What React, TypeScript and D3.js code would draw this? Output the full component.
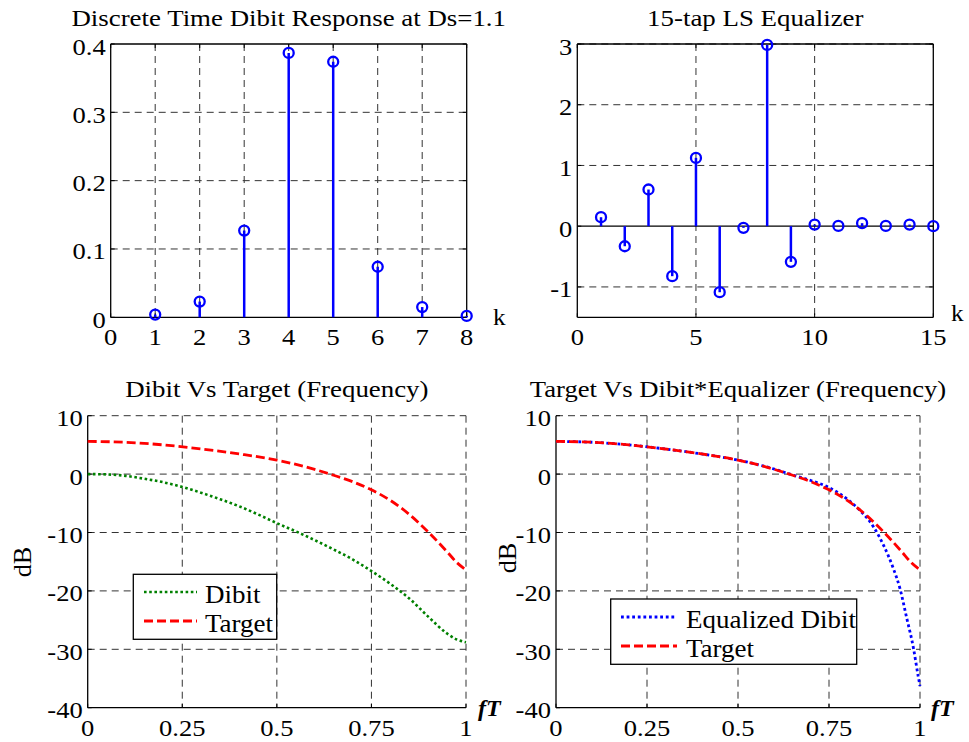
import React from 'react';
import * as d3 from 'd3';

const FONT = "'Liberation Serif', 'Times New Roman', serif";

// ---- Data ----
const dibitK = [1, 2, 3, 4, 5, 6, 7, 8];
const dibitVals = [0.004, 0.023, 0.127, 0.387, 0.374, 0.074, 0.015, 0.002];

const eqK = [1, 2, 3, 4, 5, 6, 7, 8, 9, 10, 11, 12, 13, 14, 15];
const eqVals = [0.148, -0.33, 0.604, -0.823, 1.125, -1.087, -0.027, 2.985, -0.587, 0.027, 0.005, 0.05, 0.005, 0.027, 0];

const dibitFreqX = [0, 0.05, 0.1, 0.15, 0.2, 0.25, 0.3, 0.35, 0.4, 0.45, 0.5, 0.55, 0.6, 0.65, 0.7, 0.75, 0.8, 0.85, 0.9, 0.95, 0.975, 1.0];
const dibitFreqDb = [0, -0.05, -0.3, -0.8, -1.4, -2.2, -3.2, -4.3, -5.5, -6.9, -8.4, -9.8, -11.3, -12.9, -14.6, -16.6, -18.8, -21.3, -24.4, -27.3, -28.3, -28.8];

const targetX = [0, 0.1, 0.2, 0.3, 0.4, 0.5, 0.6, 0.65, 0.7, 0.75, 0.8, 0.85, 0.9, 0.95, 0.975, 1.0];
const targetDb = [5.6, 5.45, 5.0, 4.3, 3.45, 2.4, 0.8, -0.2, -1.3, -2.7, -4.5, -6.9, -9.9, -13.3, -15.1, -16.4];

const eqDibitX = [0, 0.1, 0.2, 0.3, 0.4, 0.5, 0.6, 0.65, 0.7, 0.75, 0.8, 0.835, 0.872, 0.9, 0.927, 0.945, 0.963, 0.982, 0.995, 1.0];
const eqDibitDb = [5.6, 5.45, 5.0, 4.3, 3.45, 2.4, 0.85, -0.15, -1.1, -2.3, -4.3, -6.2, -9.0, -12.2, -16.2, -19.6, -24.5, -29.8, -34.6, -36.3];

const p1XTicks = [0, 1, 2, 3, 4, 5, 6, 7, 8];
const p1YTicks = [0, 0.1, 0.2, 0.3, 0.4];
const p2XTicks = [0, 5, 10, 15];
const p2YTicks = [-1, 0, 1, 2, 3];
const freqXTicks = [0, 0.25, 0.5, 0.75, 1];
const dbYTicks = [-40, -30, -20, -10, 0, 10];

const titles = [
  'Discrete Time Dibit Response at Ds=1.1',
  '15-tap LS Equalizer',
  'Dibit Vs Target (Frequency)',
  'Target Vs Dibit*Equalizer (Frequency)',
];
const legend1 = ['Dibit', 'Target'];
const legend2 = ['Equalized Dibit', 'Target'];

type TP = {
  x: number; y: number; children: React.ReactNode; size?: number; anchor?: string;
  sx?: number; rotate?: number; weight?: string; italic?: boolean;
};
function T({ x, y, children, size = 23.5, anchor = 'start', sx = 1.13, rotate = 0, weight = 'normal', italic = false }: TP) {
  return (
    <text
      transform={`translate(${x},${y}) rotate(${rotate}) scale(${sx},1)`}
      textAnchor={anchor as any}
      fontSize={size}
      fontFamily={FONT}
      fontWeight={weight}
      fontStyle={italic ? 'italic' : 'normal'}
      fill="#000"
    >
      {children}
    </text>
  );
}

type Box = { l: number; r: number; t: number; b: number };

function Axes({ box, x, y, xTicks, yTicks, fullBox, gridX, gridY, fmtX, fmtY }: any) {
  const GRID = '#333';
  return (
    <g>
      {gridX.map((v: number) => (
        <line key={'gx' + v} x1={x(v)} x2={x(v)} y1={box.t} y2={box.b} stroke={GRID} strokeWidth={1} strokeDasharray="7,5" />
      ))}
      {gridY.map((v: number) => (
        <line key={'gy' + v} x1={box.l} x2={box.r} y1={y(v)} y2={y(v)} stroke={GRID} strokeWidth={1} strokeDasharray="7,5" />
      ))}
      <line x1={box.l} x2={box.l} y1={box.t} y2={box.b} stroke="#000" strokeWidth={1.3} />
      <line x1={box.l} x2={box.r} y1={box.b} y2={box.b} stroke="#000" strokeWidth={1.3} />
      {fullBox && <line x1={box.l} x2={box.r} y1={box.t} y2={box.t} stroke="#000" strokeWidth={1.3} />}
      {fullBox && <line x1={box.r} x2={box.r} y1={box.t} y2={box.b} stroke="#000" strokeWidth={1.3} />}
      {xTicks.map((v: number) => (
        <g key={'xt' + v}>
          <line x1={x(v)} x2={x(v)} y1={box.b} y2={box.b - 4} stroke="#000" />
          {fullBox && <line x1={x(v)} x2={x(v)} y1={box.t} y2={box.t + 4} stroke="#000" />}
          <T x={x(v)} y={box.b + 28} anchor="middle">{fmtX(v)}</T>
        </g>
      ))}
      {yTicks.map((v: number) => (
        <g key={'yt' + v}>
          <line x1={box.l} x2={box.l + 4} y1={y(v)} y2={y(v)} stroke="#000" />
          {fullBox && <line x1={box.r} x2={box.r - 4} y1={y(v)} y2={y(v)} stroke="#000" />}
          <T x={box.l - 5} y={y(v) + 10.5} anchor="end">{fmtY(v)}</T>
        </g>
      ))}
    </g>
  );
}

export default function App() {
  const b1: Box = { l: 110.7, r: 466.7, t: 44, b: 317.3 };
  const b2: Box = { l: 577.3, r: 933.3, t: 44, b: 317.3 };
  const b3: Box = { l: 87.7, r: 466, t: 415.7, b: 707.7 };
  const b4: Box = { l: 556, r: 920, t: 415.7, b: 707.7 };

  const x1 = d3.scaleLinear().domain([0, 8]).range([b1.l, b1.r]);
  const y1 = d3.scaleLinear().domain([0, 0.4]).range([b1.b, b1.t]);
  const x2 = d3.scaleLinear().domain([0, 15]).range([b2.l, b2.r]);
  const y2 = d3.scaleLinear().domain([-1.5, 3]).range([b2.b, b2.t]);
  const x3 = d3.scaleLinear().domain([0, 1]).range([b3.l, b3.r]);
  const y3 = d3.scaleLinear().domain([-40, 10]).range([b3.b, b3.t]);
  const x4 = d3.scaleLinear().domain([0, 1]).range([b4.l, b4.r]);
  const y4 = d3.scaleLinear().domain([-40, 10]).range([b4.b, b4.t]);

  const mkLine = (xs: any, ys: any, X: number[], Y: number[]) =>
    d3.line<number>().x((_, i) => xs(X[i])).y((_, i) => ys(Y[i])).curve(d3.curveMonotoneX)(X) || '';

  const fmtF = (v: number) => String(v);
  const BLUE = '#0000ff';
  const RED = '#ff0000';
  const GREEN = '#008000';

  return (
    <svg width={969} height={742} style={{ position: 'absolute', left: 0, top: 0, background: '#fff' }}>
      <rect width={969} height={742} fill="#fff" />

      {/* Panel 1 */}
      <Axes box={b1} x={x1} y={y1} xTicks={p1XTicks} yTicks={p1YTicks} fullBox
        gridX={p1XTicks.filter((v) => v > 0 && v < 8)} gridY={p1YTicks.filter((v) => v > 0 && v < 0.4)}
        fmtX={fmtF} fmtY={fmtF} />
      {dibitK.map((k, i) => (
        <g key={'s1' + k}>
          <line x1={x1(k)} x2={x1(k)} y1={y1(0)} y2={y1(dibitVals[i])} stroke={BLUE} strokeWidth={2.5} />
          <circle cx={x1(k)} cy={y1(dibitVals[i])} r={5} fill="none" stroke={BLUE} strokeWidth={2.3} />
        </g>
      ))}
      <T x={(b1.l + b1.r) / 2} y={26} anchor="middle" size={24} sx={1.12}>{titles[0]}</T>
      <T x={493} y={325} size={24} sx={1.05}>k</T>

      {/* Panel 2 */}
      <Axes box={b2} x={x2} y={y2} xTicks={p2XTicks} yTicks={p2YTicks} fullBox
        gridX={p2XTicks.filter((v) => v > 0 && v < 15)} gridY={p2YTicks.filter((v) => v !== 0)}
        fmtX={fmtF} fmtY={fmtF} />
      <line x1={b2.l} x2={b2.r} y1={y2(0)} y2={y2(0)} stroke="#000" strokeWidth={1.2} />
      {eqK.map((k, i) => (
        <g key={'s2' + k}>
          <line x1={x2(k)} x2={x2(k)} y1={y2(0)} y2={y2(eqVals[i])} stroke={BLUE} strokeWidth={2.5} />
          <circle cx={x2(k)} cy={y2(eqVals[i])} r={5} fill="none" stroke={BLUE} strokeWidth={2.3} />
        </g>
      ))}
      <T x={(b2.l + b2.r) / 2} y={26} anchor="middle" size={24} sx={1.12}>{titles[1]}</T>
      <T x={951} y={321} size={24} sx={1.05}>k</T>

      {/* Panel 3 */}
      <Axes box={b3} x={x3} y={y3} xTicks={freqXTicks} yTicks={dbYTicks}
        gridX={freqXTicks.filter((v) => v > 0)} gridY={dbYTicks.filter((v) => v > -40)}
        fmtX={fmtF} fmtY={fmtF} />
      <path d={mkLine(x3, y3, dibitFreqX, dibitFreqDb)} fill="none" stroke={GREEN} strokeWidth={2.6} strokeDasharray="2.6,2.6" />
      <path d={mkLine(x3, y3, targetX, targetDb)} fill="none" stroke={RED} strokeWidth={2.8} strokeDasharray="9,4" />
      <T x={(b3.l + b3.r) / 2} y={397} anchor="middle" size={24} sx={1.12}>{titles[2]}</T>
      <T x={31} y={562} anchor="middle" size={25} sx={1.05} rotate={-90}>dB</T>
      <T x={478} y={716} size={24} sx={1.0} weight="bold" italic>fT</T>
      <rect x={133.3} y={574.3} width={143.4} height={65} fill="#fff" stroke="#000" strokeWidth={1.3} />
      <line x1={144} x2={197} y1={592} y2={592} stroke={GREEN} strokeWidth={2.6} strokeDasharray="2.6,2.6" />
      <line x1={144} x2={197} y1={621} y2={621} stroke={RED} strokeWidth={2.8} strokeDasharray="9,4" />
      <T x={205} y={603} size={25} sx={1.08}>{legend1[0]}</T>
      <T x={205} y={632} size={25} sx={1.08}>{legend1[1]}</T>

      {/* Panel 4 */}
      <Axes box={b4} x={x4} y={y4} xTicks={freqXTicks} yTicks={dbYTicks}
        gridX={freqXTicks.filter((v) => v > 0)} gridY={dbYTicks.filter((v) => v > -40)}
        fmtX={fmtF} fmtY={fmtF} />
      <path d={mkLine(x4, y4, eqDibitX, eqDibitDb)} fill="none" stroke={BLUE} strokeWidth={2.8} strokeDasharray="2.8,2.8" />
      <path d={mkLine(x4, y4, targetX, targetDb)} fill="none" stroke={RED} strokeWidth={2.8} strokeDasharray="9,4" />
      <T x={(b4.l + b4.r) / 2} y={397} anchor="middle" size={24} sx={1.11}>{titles[3]}</T>
      <T x={516} y={558} anchor="middle" size={25} sx={1.05} rotate={-90}>dB</T>
      <T x={931} y={716} size={24} sx={1.0} weight="bold" italic>fT</T>
      <rect x={610.7} y={599} width={246} height={65.3} fill="#fff" stroke="#000" strokeWidth={1.3} />
      <line x1={621} x2={677} y1={617} y2={617} stroke={BLUE} strokeWidth={2.8} strokeDasharray="2.8,2.8" />
      <line x1={621} x2={677} y1={646} y2={646} stroke={RED} strokeWidth={2.8} strokeDasharray="9,4" />
      <T x={686} y={628} size={25} sx={1.08}>{legend2[0]}</T>
      <T x={686} y={657} size={25} sx={1.08}>{legend2[1]}</T>
    </svg>
  );
}
